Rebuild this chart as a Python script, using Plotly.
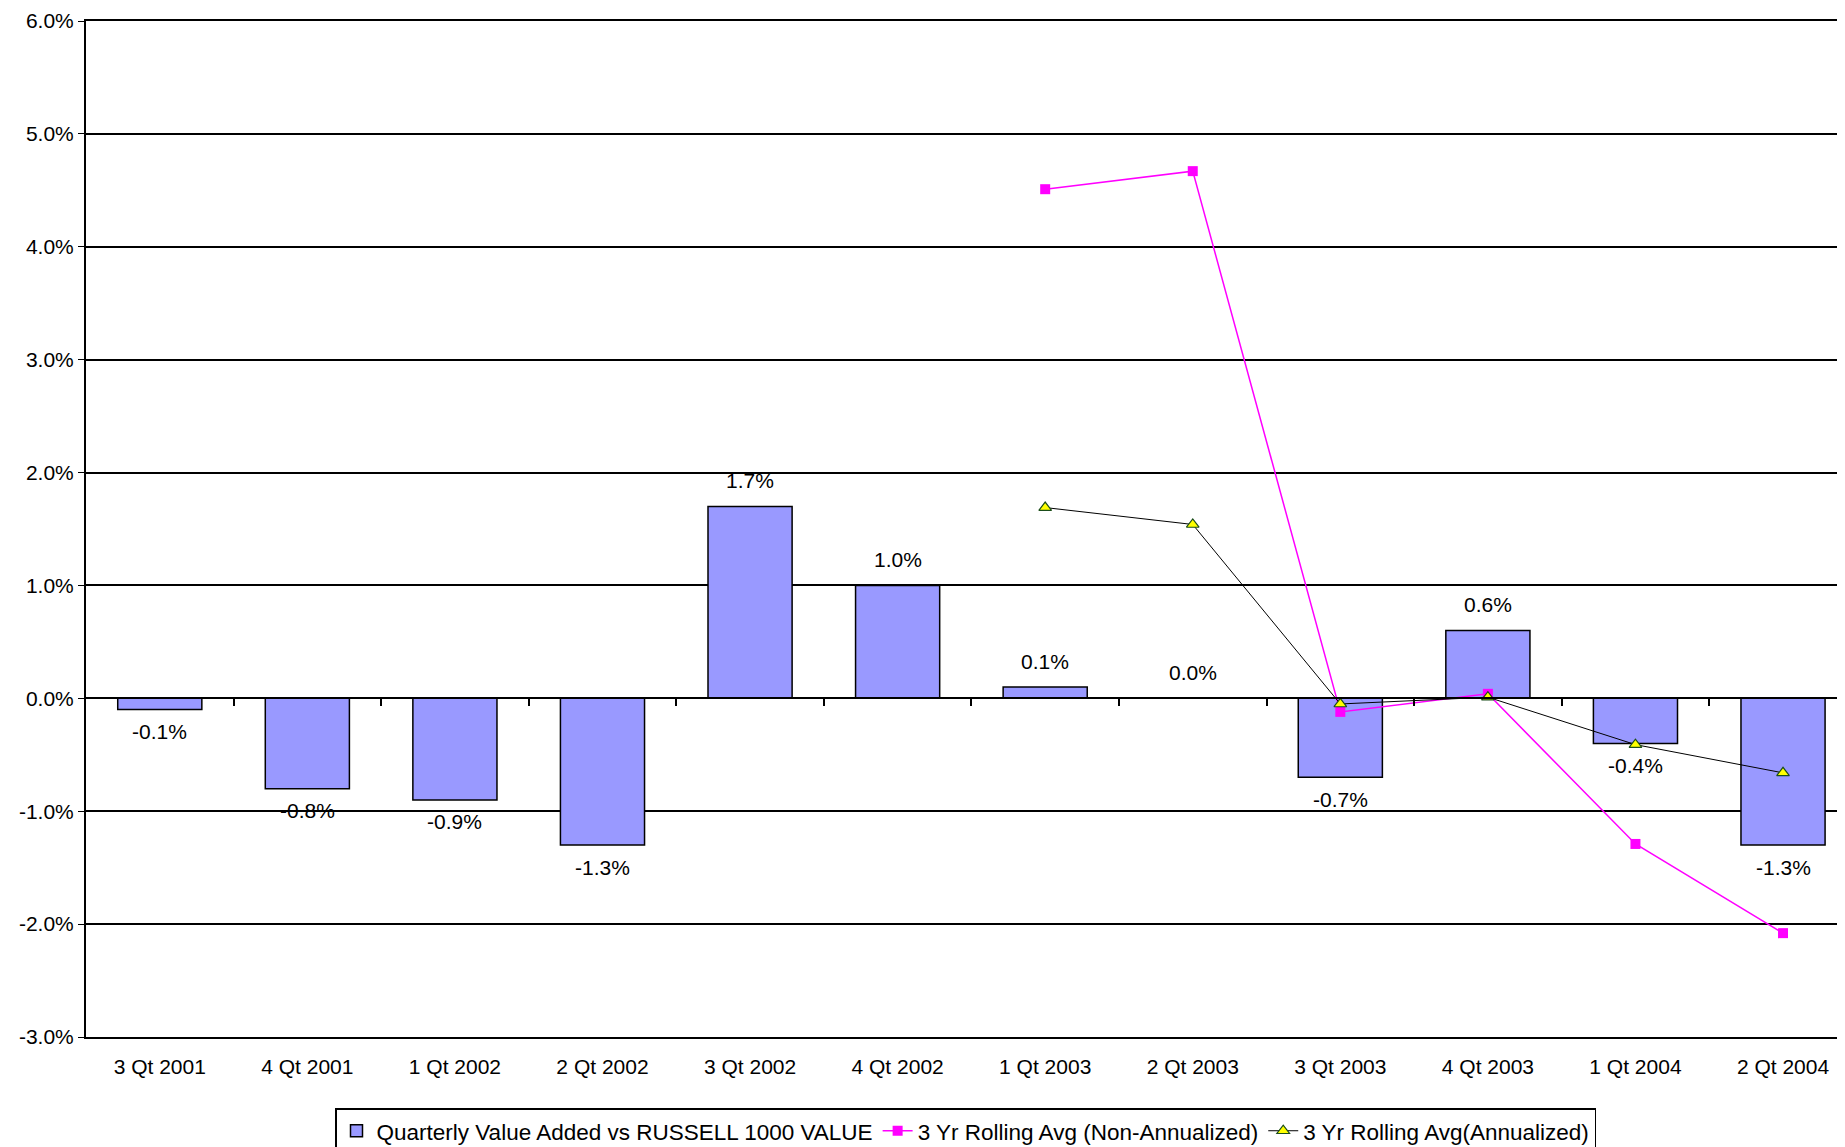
import plotly.graph_objects as go

# quarters on the category axis
quarters = ["3 Qt 2001", "4 Qt 2001", "1 Qt 2002", "2 Qt 2002", "3 Qt 2002", "4 Qt 2002",
            "1 Qt 2003", "2 Qt 2003", "3 Qt 2003", "4 Qt 2003", "1 Qt 2004", "2 Qt 2004"]

# quarterly value added (%)
value_added = [-0.1, -0.8, -0.9, -1.3, 1.7, 1.0, 0.1, 0.0, -0.7, 0.6, -0.4, -1.3]

# 3 yr rolling averages (%), only from 1 Qt 2003 on
rolling_non_ann = [None, None, None, None, None, None, 4.51, 4.67, -0.12, 0.04, -1.29, -2.08]
rolling_ann = [None, None, None, None, None, None, 1.69, 1.54, -0.05, 0.01, -0.41, -0.66]

y_ticks = [-3, -2, -1, 0, 1, 2, 3, 4, 5, 6]

xpos = list(range(len(quarters)))
bounds = [i + 0.5 for i in xpos[:-1]]

FONT = "Liberation Sans, Arial, sans-serif"

fig = go.Figure()

fig.add_trace(go.Bar(
    x=xpos,
    y=value_added,
    name="Quarterly Value Added vs RUSSELL 1000 VALUE",
    marker=dict(color="#9999FF", line=dict(color="black", width=1.5)),
    width=0.57,
))

fig.add_trace(go.Scatter(
    x=xpos,
    y=rolling_non_ann,
    name="3 Yr Rolling Avg (Non-Annualized)",
    mode="lines+markers",
    line=dict(color="#FF00FF", width=1.5),
    marker=dict(symbol="square", size=10, color="#FF00FF"),
    xaxis="x2",
))

fig.add_trace(go.Scatter(
    x=xpos,
    y=rolling_ann,
    name="3 Yr Rolling Avg(Annualized)",
    mode="lines+markers",
    line=dict(color="black", width=1),
    marker=dict(symbol="triangle-up", size=11, color="#FFFF00",
                line=dict(color="#1a4d1a", width=1.2)),
    xaxis="x2",
))

# data labels above positive bars, below negative ones
for x, v in zip(xpos, value_added):
    fig.add_annotation(
        x=x, y=v, text=f"{v:.1f}%",
        showarrow=False,
        yanchor="middle",
        yshift=26 if v >= 0 else -22,
        font=dict(family=FONT, size=21, color="black"),
    )

# page body adds an 8px margin, so the figure is sized to fit the window
fig.update_layout(
    width=1837,
    height=1139,
    paper_bgcolor="white",
    plot_bgcolor="white",
    font=dict(family=FONT, size=21, color="black"),
    margin=dict(l=78, r=0, t=13, b=110, autoexpand=False),
    showlegend=True,
    legend=dict(
        orientation="h",
        x=0.5, xanchor="center",
        y=-0.07, yanchor="top",
        bordercolor="black", borderwidth=1.5,
        font=dict(family=FONT, size=22.5, color="black"),
        itemwidth=30,
    ),
    xaxis=dict(
        range=[-0.5, 11.42],
        tickvals=xpos,
        ticktext=quarters,
        ticks="",
        showgrid=False,
        zeroline=False,
        showline=True,
        mirror=True,
        linecolor="black",
        linewidth=2,
        tickfont=dict(family=FONT, size=21),
        ticklabelstandoff=10,
    ),
    xaxis2=dict(
        matches="x",
        overlaying="x",
        anchor="free",
        position=1 / 3,
        tickvals=bounds,
        ticks="outside",
        ticklen=7,
        tickcolor="black",
        tickwidth=1.5,
        showticklabels=False,
        showgrid=False,
        zeroline=False,
        showline=True,
        linecolor="black",
        linewidth=1.5,
    ),
    yaxis=dict(
        range=[-3, 6],
        tickvals=y_ticks,
        ticktext=[f"{v:.1f}%" for v in y_ticks],
        showgrid=True,
        gridcolor="black",
        gridwidth=1.5,
        zeroline=False,
        showline=True,
        linecolor="black",
        linewidth=2,
        ticks="outside",
        ticklen=6,
        tickcolor="black",
        tickfont=dict(family=FONT, size=21),
        ticklabeloverflow="allow",
    ),
)

fig.write_html("out.html")
